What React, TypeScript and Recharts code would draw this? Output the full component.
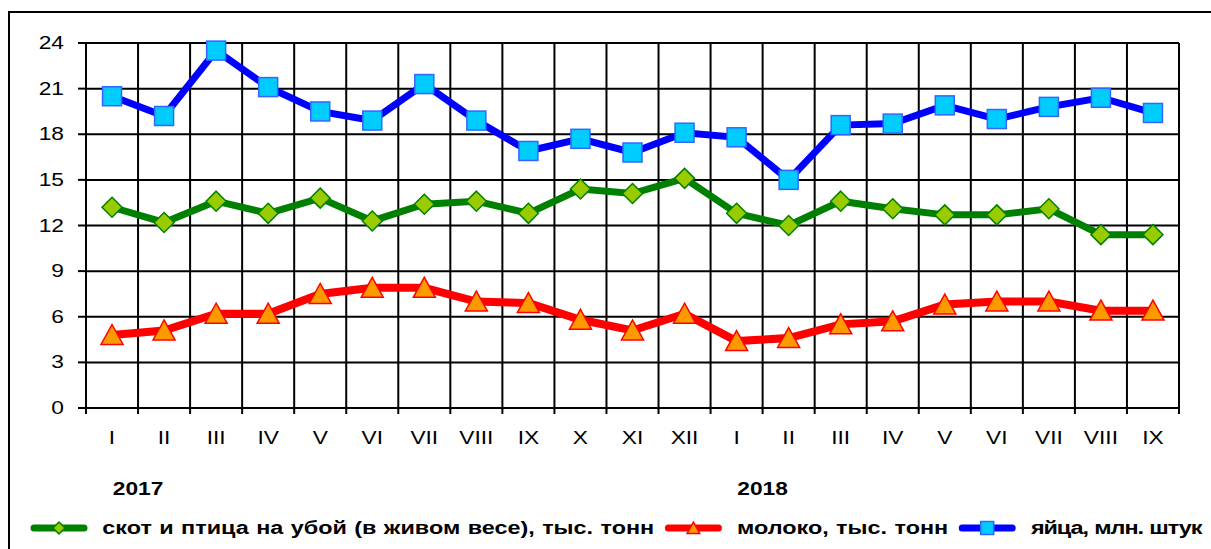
import { LineChart, Line, XAxis, YAxis, CartesianGrid } from 'recharts';

const months = ['I', 'II', 'III', 'IV', 'V', 'VI', 'VII', 'VIII', 'IX', 'X', 'XI', 'XII', 'I', 'II', 'III', 'IV', 'V', 'VI', 'VII', 'VIII', 'IX'];
const years = ['2017', '2018'];
const yearTicks = [1, 13];

const livestock = [13.2, 12.2, 13.6, 12.8, 13.8, 12.3, 13.4, 13.6, 12.8, 14.4, 14.1, 15.1, 12.8, 12.0, 13.6, 13.1, 12.7, 12.7, 13.1, 11.4, 11.4];
const milk = [4.8, 5.1, 6.2, 6.2, 7.5, 7.9, 7.9, 7.0, 6.9, 5.8, 5.1, 6.2, 4.4, 4.6, 5.5, 5.7, 6.8, 7.0, 7.0, 6.4, 6.4];
const eggs = [20.5, 19.2, 23.5, 21.1, 19.5, 18.9, 21.3, 18.9, 16.9, 17.7, 16.8, 18.1, 17.8, 15.0, 18.6, 18.7, 19.9, 19.0, 19.8, 20.4, 19.4];

const yTicks = [0, 3, 6, 9, 12, 15, 18, 21, 24];
const seriesNames = ['скот и птица на убой (в живом весе), тыс. тонн', 'молоко, тыс. тонн', 'яйца, млн. штук'];

// x is the middle of each month's cell, boundaries are whole numbers
const data = months.map((m, i) => ({ x: i + 0.5, month: m, livestock: livestock[i], milk: milk[i], eggs: eggs[i] }));
const boundaryTicks = [...months.map((_, i) => i), months.length];

const FONT = '"Liberation Sans", Arial, sans-serif';
const STRETCH = 1.3;

const GREEN = '#008000';
const GREEN_FILL = '#99CC00';
const RED = '#FF0000';
const RED_FILL = '#FF9900';
const BLUE = '#0000FF';
const BLUE_FILL = '#00CCFF';
const BLUE_EDGE = '#3366FF';

const stretchAt = (x: number, y: number) => `translate(${x} ${y}) scale(${STRETCH} 1) translate(${-x} ${-y})`;

const YTick = ({ x, y, payload }: any) => (
  <text x={x} y={y} textAnchor="end" dominantBaseline="central" fontSize={17.5} fontFamily={FONT} fill="#000" transform={stretchAt(x, y)}>
    {payload.value}
  </text>
);

// one tick per cell boundary: month name sits half a cell to the right, year name right under the boundary
const XTick = ({ x, y, payload, width }: any) => {
  const v = payload.value;
  const step = (width || 1093) / months.length;
  const mx = x + step / 2;
  const my = y + 24;
  const yi = yearTicks.indexOf(v);
  const yy = y + 75;
  return (
    <g>
      {v < months.length && (
        <text x={mx} y={my} textAnchor="middle" dominantBaseline="central" fontSize={17.5} fontFamily={FONT} fill="#000" transform={stretchAt(mx, my)}>
          {months[v]}
        </text>
      )}
      {yi >= 0 && (
        <text x={x} y={yy} textAnchor="middle" dominantBaseline="central" fontSize={17.5} fontWeight="bold" fontFamily={FONT} fill="#000" transform={stretchAt(x, yy)}>
          {years[yi]}
        </text>
      )}
    </g>
  );
};

const Diamond = ({ cx, cy, r, fill, stroke }: any) => (
  <path d={`M${cx},${cy - r}L${cx + r},${cy}L${cx},${cy + r}L${cx - r},${cy}Z`} fill={fill} stroke={stroke} strokeWidth={1.5} />
);
const Triangle = ({ cx, cy, r, fill, stroke }: any) => (
  <path d={`M${cx},${cy - r}L${cx + r * 1.05},${cy + r * 0.9}L${cx - r * 1.05},${cy + r * 0.9}Z`} fill={fill} stroke={stroke} strokeWidth={1.5} />
);
const Square = ({ cx, cy, r, fill, stroke }: any) => (
  <rect x={cx - r} y={cy - r} width={r * 2} height={r * 2} fill={fill} stroke={stroke} strokeWidth={1.5} />
);

const legendItems = [
  { name: seriesNames[0], color: GREEN, spacing: 0, marker: <Diamond cx={29} cy={10} r={6} fill={GREEN_FILL} stroke={GREEN} /> },
  { name: seriesNames[1], color: RED, spacing: 0, marker: <Triangle cx={29} cy={10} r={6} fill={RED_FILL} stroke={RED} /> },
  { name: seriesNames[2], color: BLUE, spacing: -0.8, marker: <Square cx={29} cy={10} r={6.5} fill={BLUE_FILL} stroke={BLUE_EDGE} /> },
];

export default function App() {
  return (
    <div style={{ position: 'fixed', left: 8, top: 11, width: 1203, height: 538, overflow: 'hidden' }}>
      <div style={{ position: 'relative', width: 1220, height: 560, border: '2px solid #000', boxSizing: 'border-box', background: '#fff' }}>
        <LineChart width={1200} height={540} data={data} margin={{ top: 30, right: 31, left: 16, bottom: 50 }}>
          <CartesianGrid stroke="#000" strokeWidth={2} />
          <XAxis
            type="number"
            dataKey="x"
            domain={[0, months.length]}
            ticks={boundaryTicks}
            interval={0}
            height={95}
            tickSize={6}
            tickMargin={0}
            axisLine={{ stroke: '#000', strokeWidth: 2 }}
            tickLine={{ stroke: '#000', strokeWidth: 2 }}
            tick={<XTick />}
          />
          <YAxis
            type="number"
            domain={[0, 24]}
            ticks={yTicks}
            interval={0}
            width={60}
            tickSize={8}
            tickMargin={14}
            axisLine={{ stroke: '#000', strokeWidth: 2 }}
            tickLine={{ stroke: '#000', strokeWidth: 2 }}
            tick={<YTick />}
          />
          <Line
            dataKey="livestock"
            name={seriesNames[0]}
            stroke={GREEN}
            strokeWidth={7}
            isAnimationActive={false}
            dot={(p: any) => <Diamond key={`d-${p.index}`} cx={p.cx} cy={p.cy} r={10} fill={GREEN_FILL} stroke={GREEN} />}
            activeDot={false}
          />
          <Line
            dataKey="milk"
            name={seriesNames[1]}
            stroke={RED}
            strokeWidth={8}
            isAnimationActive={false}
            dot={(p: any) => <Triangle key={`t-${p.index}`} cx={p.cx} cy={p.cy} r={10.5} fill={RED_FILL} stroke={RED} />}
            activeDot={false}
          />
          <Line
            dataKey="eggs"
            name={seriesNames[2]}
            stroke={BLUE}
            strokeWidth={7}
            isAnimationActive={false}
            dot={(p: any) => <Square key={`s-${p.index}`} cx={p.cx} cy={p.cy} r={9.5} fill={BLUE_FILL} stroke={BLUE_EDGE} />}
            activeDot={false}
          />
        </LineChart>
        <div
          style={{
            position: 'absolute',
            left: 20,
            top: 505,
            height: 20,
            display: 'flex',
            alignItems: 'center',
            whiteSpace: 'nowrap',
            transform: `scaleX(${STRETCH})`,
            transformOrigin: 'left center',
            fontFamily: FONT,
            fontWeight: 'bold',
            fontSize: 18,
            wordSpacing: 0.7,
            color: '#000',
          }}
        >
          {legendItems.map((it) => (
            <div key={it.name} style={{ display: 'flex', alignItems: 'center', marginRight: 8 }}>
              <svg width={58 / STRETCH} height={20} viewBox="0 0 58 20" preserveAspectRatio="none">
                <line x1={4} y1={10} x2={54} y2={10} stroke={it.color} strokeWidth={7} strokeLinecap="round" />
                {it.marker}
              </svg>
              <span style={{ marginLeft: 11, letterSpacing: it.spacing }}>{it.name}</span>
            </div>
          ))}
        </div>
      </div>
    </div>
  );
}
